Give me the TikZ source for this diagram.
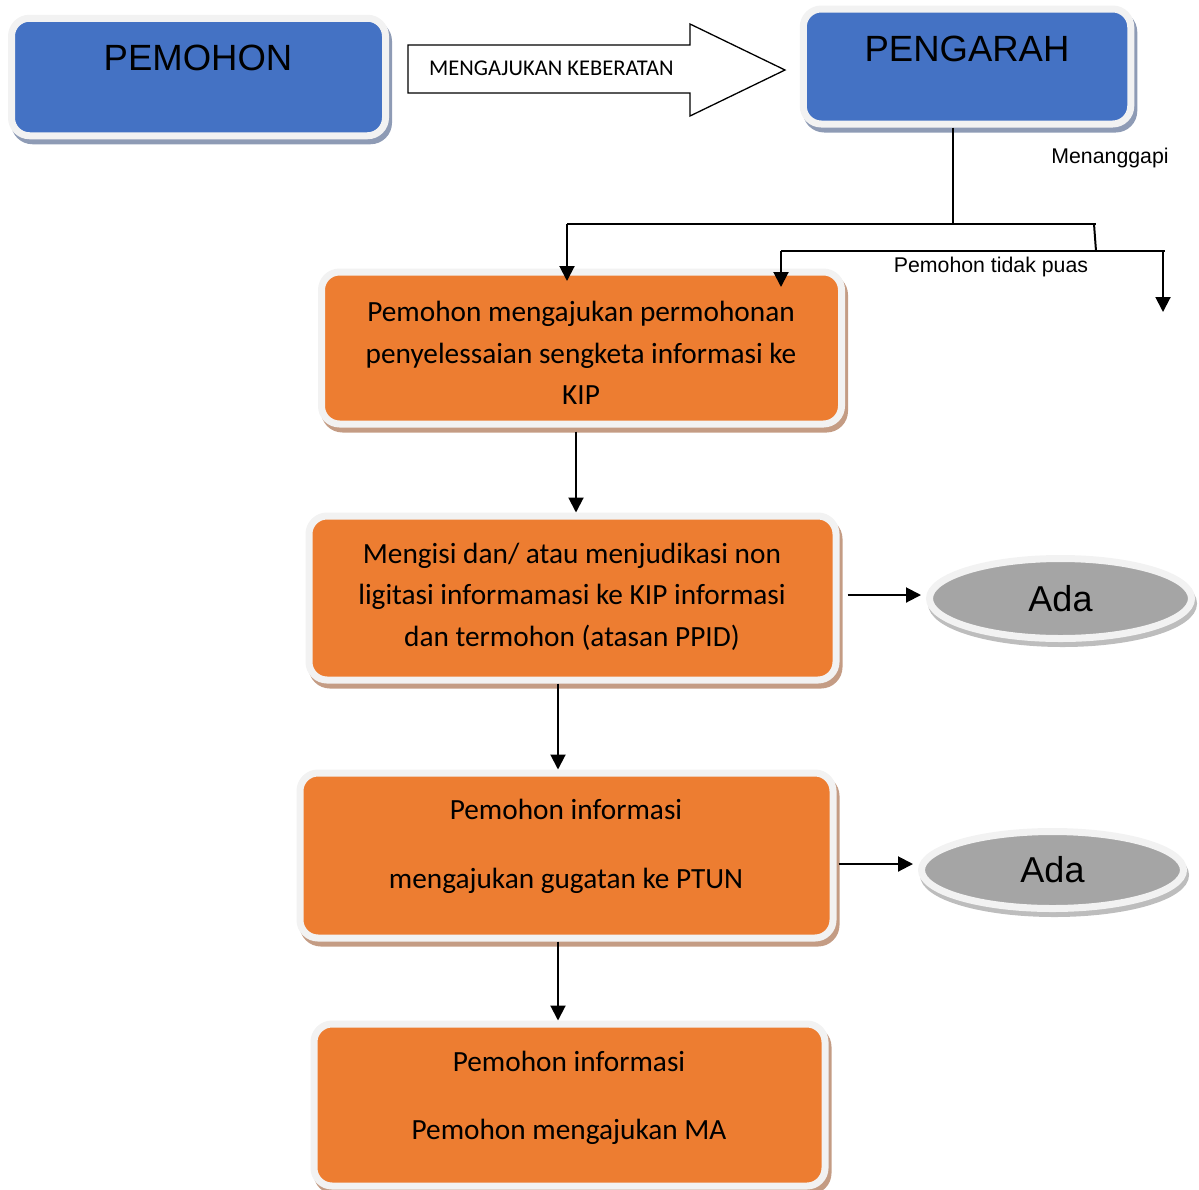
\documentclass[tikz,border=0pt]{standalone}
\usepackage{fontspec}
\setmainfont{Liberation Sans}
\newfontfamily\calibri{Carlito}
\usetikzlibrary{shapes.geometric,arrows.meta}
\definecolor{boxblue}{HTML}{4472C4}
\definecolor{boxorange}{HTML}{ED7D31}
\definecolor{boxgray}{HTML}{A5A5A5}
\definecolor{framec}{HTML}{F2F2F2}
\definecolor{blueshadow}{HTML}{8E9BB5}
\definecolor{orangeshadow}{HTML}{C49C84}
\definecolor{grayshadow}{HTML}{BDBDBD}
\tikzset{
  framed/.style={draw=framec, line width=7pt, rounded corners=18pt, inner sep=0pt},
  bluebox/.style={framed, fill=boxblue,
    preaction={draw=blueshadow, fill=blueshadow, line width=7pt, transform canvas={shift={(3pt,-5pt)}}}},
  orangebox/.style={framed, fill=boxorange,
    preaction={draw=orangeshadow, fill=orangeshadow, line width=7pt, transform canvas={shift={(3pt,-5pt)}}}},
  adaell/.style={ellipse, draw=framec, line width=7pt, fill=boxgray, inner sep=0pt,
    font=\fontsize{36}{40}\selectfont,
    preaction={draw=grayshadow, fill=grayshadow, line width=7pt, transform canvas={shift={(2pt,-5pt)}}}},
  bigtxt/.style={font=\fontsize{36.5}{40}\selectfont, inner sep=0pt},
  boxtxt/.style={font=\calibri\fontsize{29.3}{41.5}\selectfont, align=center, inner sep=0pt},
  smalltxt/.style={font=\fontsize{21.3}{24}\selectfont, inner sep=0pt},
  conn/.style={line width=2pt},
  arr/.style={line width=2pt, -{Triangle[length=15pt,width=15pt]}},
}
\begin{document}
\begin{tikzpicture}[x=1pt,y=-1pt]
\useasboundingbox (0,0) rectangle (1199,1189);

% top blue boxes
\node[bluebox, minimum width=374pt, minimum height=117.5pt] (pemohon) at (198.5,77) {};
\node[bigtxt] (pemohonT) at (198,58) {PEMOHON};
\node[bluebox, minimum width=327.5pt, minimum height=115pt] (pengarah) at (967,66.5) {};
\node[bigtxt] (pengarahT) at (967,48.5) {PENGARAH};

% block arrow
\draw[line width=1.3pt, fill=white] (408,45) -- (690,45) -- (690,24) -- (785,70) -- (690,116) -- (690,93) -- (408,93) -- cycle;
\node[font=\calibri\fontsize{22.5}{24}\selectfont, anchor=west, inner sep=0pt] (keb) at (429,68.5) {MENGAJUKAN KEBERATAN};

% orange boxes
\node[orangebox, minimum width=520pt, minimum height=152pt] (b1) at (581.5,348) {};
\node[boxtxt] (b1t) at (581,353) {Pemohon mengajukan permohonan\\penyelessaian sengketa informasi ke\\KIP};
\node[orangebox, minimum width=527pt, minimum height=164pt] (b2) at (572.5,598) {};
\node[boxtxt] (b2t) at (572,596.5) {Mengisi dan/ atau menjudikasi non\\ligitasi informamasi ke KIP informasi\\dan termohon (atasan PPID)};
\node[orangebox, minimum width=533pt, minimum height=165pt] (b3) at (566.5,855.5) {};
\node[boxtxt] (b3t) at (566,846.5) {Pemohon informasi\\[27pt]mengajukan gugatan ke PTUN};
\node[orangebox, minimum width=511pt, minimum height=162pt] (b4) at (569.5,1105) {};
\node[boxtxt] (b4t) at (569,1098) {Pemohon informasi\\[27pt]Pemohon mengajukan MA};

% ellipses
\node[adaell, minimum width=262pt, minimum height=80pt] (ada1) at (1060.5,598.5) {Ada};
\node[adaell, minimum width=262pt, minimum height=77pt] (ada2) at (1052.5,870) {Ada};

% labels
\node[smalltxt] (menang) at (1110,157.5) {Menanggapi};
\node[smalltxt] (tidakpuas) at (991,266.5) {Pemohon tidak puas};

% connectors at top
\coordinate (j1) at (953,224);
\coordinate (hl) at (567,224);
\coordinate (hr) at (1096,224);
\coordinate (k1) at (1094,224);
\coordinate (k2) at (1096,251);
\coordinate (h2l) at (781,251);
\coordinate (h2r) at (1165,251);
\coordinate (h2x) at (1163,251);
\coordinate (t1) at (567,281);
\coordinate (t2) at (781,287);
\coordinate (t3) at (1163,312);
\draw[conn] ([xshift=-14pt]pengarah.south) -- (j1);
\draw[conn] (hl) -- (hr);
\draw[conn] (k1) -- (k2);
\draw[conn] (h2l) -- (h2r);
\draw[arr] (hl) -- (t1);
\draw[arr] (h2l) -- (t2);
\draw[arr] (h2x) -- (t3);

% vertical flow
\draw[arr] ([xshift=-5.5pt,yshift=-4pt]b1.south) -- ([xshift=-5.5pt]b1.south |- b2.north);
\draw[arr] ([xshift=-14.5pt]b2.south) -- ([xshift=-14.5pt]b2.south |- b3.north);
\draw[arr] ([xshift=-8.5pt]b3.south) -- ([xshift=-8.5pt]b3.south |- b4.north);

% side arrows
\draw[arr] ([xshift=8pt,yshift=3pt]b2.east) -- ([yshift=3.5pt,xshift=-5pt]ada1.west);
\draw[arr] ([xshift=2pt,yshift=-8.5pt]b3.east) -- ([xshift=-5pt,yshift=6pt]ada2.west);
\end{tikzpicture}
\end{document}
